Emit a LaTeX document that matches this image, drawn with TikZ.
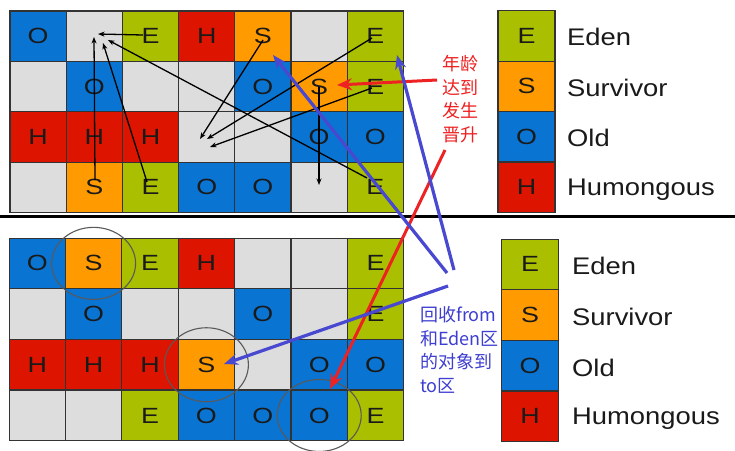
\documentclass[tikz,border=0pt]{standalone}
\usepackage{fontspec}
\setmainfont{Liberation Sans}
\newfontfamily\cjk{Noto Sans CJK SC}
\usetikzlibrary{arrows.meta}
\definecolor{cE}{HTML}{A9BF00}
\definecolor{cS}{HTML}{FF9A00}
\definecolor{cO}{HTML}{0A74D2}
\definecolor{cH}{HTML}{DD1400}
\definecolor{cG}{HTML}{DDDDDD}
\definecolor{ink}{HTML}{1A1A1A}
\definecolor{redA}{HTML}{EE2222}
\definecolor{blueA}{HTML}{4848D0}
\definecolor{blueT}{HTML}{3E3ED0}
\begin{document}
\begin{tikzpicture}[x=1pt,y=-1pt,
  cell/.style={draw=black!80, line width=1.1pt, minimum width=56.2pt, minimum height=50.5pt,
    inner sep=0pt, outer sep=0pt, text=ink, font=\fontsize{22}{22}\selectfont},
  cellE/.style={cell, fill=cE, node contents={\scalebox{1.22}[1]{E}}},
  cellS/.style={cell, fill=cS, node contents={\scalebox{1.22}[1]{S}}},
  cellO/.style={cell, fill=cO, node contents={\scalebox{1.22}[1]{O}}},
  cellH/.style={cell, fill=cH, node contents={\scalebox{1.22}[1]{H}}},
  cellG/.style={cell, fill=cG, node contents={}},
  legbox/.style={cell, minimum width=57pt},
  leglabel/.style={anchor=west, inner sep=0pt, text=ink, font=\fontsize{24}{24}\selectfont},
  move/.style={black, line width=1.3pt, -{Stealth[length=6.5pt,width=5pt]}},
  redarrow/.style={redA, line width=3pt, -{Stealth[length=15pt,width=12pt]}},
  bluearrow/.style={blueA, line width=3.2pt, -{Stealth[length=14pt,width=11pt]}},
  ring/.style={black!65, line width=1.1pt}
]
\useasboundingbox (0,0) rectangle (735,450);
\fill[white] (0,0) rectangle (735,450);

% top grid
\foreach \row [count=\r from 0] in {{O,G,E,H,S,G,E},{G,O,G,G,O,S,E},{H,H,H,G,G,O,O},{G,S,E,O,O,G,E}} {
  \foreach \k [count=\c from 0] in \row {
    \node (t-\c-\r) at ({10+56.2*(\c+0.5)},{11+50.4*(\r+0.5)}) [cell\k];
  }
}
% bottom grid
\foreach \row [count=\r from 0] in {{O,S,E,H,G,G,E},{G,O,G,G,O,G,E},{H,H,H,S,G,O,O},{G,G,E,O,O,O,E}} {
  \foreach \k [count=\c from 0] in \row {
    \node (b-\c-\r) at ({9+56.4*(\c+0.5)},{238+50.7*(\r+0.5)}) [cell\k];
  }
}

% legends
\node[legbox, fill=cE] (lt-e) at (526.5,36) {\scalebox{1.22}[1]{E}};
\node[legbox, fill=cS] (lt-s) at (526.5,86.4) {\scalebox{1.22}[1]{S}};
\node[legbox, fill=cO] (lt-o) at (526.5,136.8) {\scalebox{1.22}[1]{O}};
\node[legbox, fill=cH] (lt-h) at (526.5,187.2) {\scalebox{1.22}[1]{H}};
\node[leglabel] (ltl-e) at (567,37) {\scalebox{1.14}[1]{Eden}};
\node[leglabel] (ltl-s) at (567,88) {\scalebox{1.14}[1]{Survivor}};
\node[leglabel] (ltl-o) at (567,138) {\scalebox{1.14}[1]{Old}};
\node[leglabel] (ltl-h) at (567,190) {\scalebox{1.14}[1]{Humongous}};

\node[legbox, fill=cE] (lb-e) at (530,264.4) {\scalebox{1.22}[1]{E}};
\node[legbox, fill=cS] (lb-s) at (530,315) {\scalebox{1.22}[1]{S}};
\node[legbox, fill=cO] (lb-o) at (530,365.6) {\scalebox{1.22}[1]{O}};
\node[legbox, fill=cH] (lb-h) at (530,416.2) {\scalebox{1.22}[1]{H}};
\node[leglabel] (lbl-e) at (572,266) {\scalebox{1.14}[1]{Eden}};
\node[leglabel] (lbl-s) at (572,317) {\scalebox{1.14}[1]{Survivor}};
\node[leglabel] (lbl-o) at (572,368) {\scalebox{1.14}[1]{Old}};
\node[leglabel] (lbl-h) at (572,419) {\scalebox{1.14}[1]{Humongous}};

% separator
\draw[line width=3pt] (0,216) -- (735,216);

% targets of the object moves
\coordinate (p1) at (98,34);
\coordinate (p2) at (94,37);
\coordinate (p3) at (103,43);
\coordinate (p4) at (108,40);
\coordinate (q1) at (200,139);
\coordinate (q2) at (207,139);
\coordinate (q3) at (210,147);
\coordinate (q4) at (319,185);
\coordinate (s1) at (143,35);
\coordinate (s2) at (95,180);
\coordinate (s3) at (147,182);
\coordinate (s4) at (367,178);
\coordinate (s5) at (263,40);
\coordinate (s6) at (372,38);
\coordinate (s7) at (372,88);
\coordinate (s8) at (319,87);

\draw[move] (s1) -- (p1);
\draw[move] (s2) -- (p2);
\draw[move] (s3) -- (p3);
\draw[move] (s4) -- (p4);
\draw[move] (s5) -- (q1);
\draw[move] (s6) -- (q2);
\draw[move] (s7) -- (q3);
\draw[move] (s8) -- (q4);

% rings in the bottom grid
\draw[ring] (b-1-0.center) ellipse [x radius=42, y radius=36];
\draw[ring] (b-3-2.center) ellipse [x radius=42, y radius=37];
\draw[ring] (b-5-3.center) ellipse [x radius=42, y radius=36];

% annotations
\node[text=redA, align=center, inner sep=0pt, font=\cjk\fontsize{18}{23.5}\selectfont]
  (agetext) at (460,99) {年龄\\达到\\发生\\晋升};
\node[text=blueT, align=left, anchor=west, inner sep=0pt, font=\cjk\fontsize{18}{23.5}\selectfont]
  (gctext) at (420,350) {回收from\\和Eden区\\的对象到\\to区};

\coordinate (r1) at (437,80);
\coordinate (r2) at (445,150);
\coordinate (rt1) at (337,85);
\coordinate (rt2) at (330,389);
\coordinate (h1) at (447,273);
\coordinate (h2) at (454,270);
\coordinate (h3) at (448,286);
\coordinate (bt1) at (273,55);
\coordinate (bt2) at (397,55);
\coordinate (bt3) at (224,364);

\draw[redarrow] (r1) -- (rt1);
\draw[redarrow] (r2) -- (rt2);
\draw[bluearrow] (h1) -- (bt1);
\draw[bluearrow] (h2) -- (bt2);
\draw[bluearrow] (h3) -- (bt3);
\end{tikzpicture}
\end{document}
